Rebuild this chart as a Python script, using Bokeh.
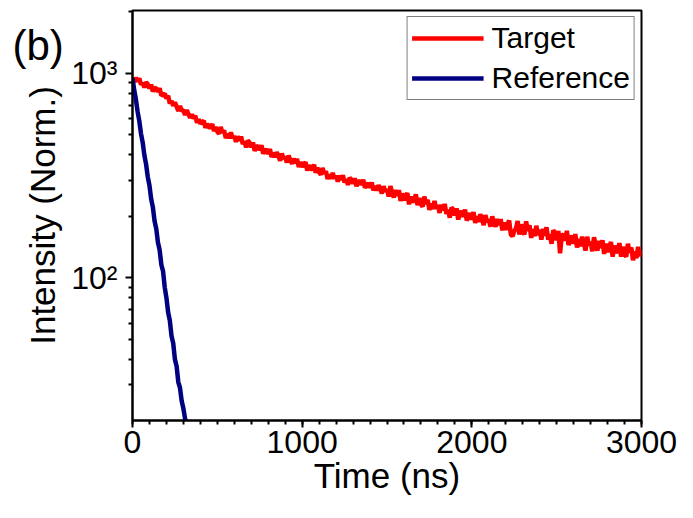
from bokeh.plotting import figure
from bokeh.models import Range1d, FixedTicker, Legend, LegendItem, Title
from bokeh.embed import file_html
from bokeh.resources import INLINE

# ---- data ----
target_t = list(range(0, 3001, 10))
target_i = [
    956, 907, 952, 914, 945, 882, 901, 852, 905, 885,
    845, 881, 816, 845, 848, 812, 846, 779, 787, 796,
    753, 778, 713, 733, 695, 721, 690, 656, 692, 658,
    660, 626, 662, 631, 606, 631, 602, 621, 574, 597,
    568, 578, 587, 542, 567, 544, 546, 565, 523, 546,
    519, 507, 547, 513, 526, 483, 507, 483, 514, 483,
    493, 463, 492, 469, 491, 452, 464, 435, 470, 459,
    435, 460, 418, 438, 442, 421, 445, 406, 416, 427,
    404, 427, 390, 409, 389, 412, 395, 374, 406, 385,
    389, 367, 397, 377, 362, 383, 364, 382, 349, 369,
    349, 360, 368, 335, 356, 339, 343, 358, 327, 346,
    329, 320, 345, 323, 332, 305, 320, 306, 326, 306,
    315, 296, 316, 302, 318, 293, 303, 285, 309, 303,
    289, 307, 281, 295, 298, 285, 302, 276, 284, 291,
    276, 293, 268, 281, 268, 284, 273, 259, 281, 265,
    271, 250, 281, 262, 247, 269, 252, 269, 238, 259,
    240, 251, 260, 229, 250, 235, 240, 256, 227, 246,
    230, 223, 250, 230, 241, 215, 231, 217, 238, 218,
    227, 208, 228, 214, 230, 206, 215, 197, 221, 216,
    202, 219, 193, 208, 211, 199, 216, 191, 199, 207,
    193, 210, 186, 200, 188, 205, 194, 181, 203, 188,
    193, 178, 200, 187, 178, 194, 181, 194, 171, 187,
    172, 183, 191, 163, 160, 170, 174, 190, 163, 183,
    169, 163, 189, 170, 181, 157, 173, 160, 180, 162,
    172, 154, 174, 161, 177, 154, 163, 147, 171, 166,
    153, 170, 132, 161, 164, 152, 170, 145, 153, 161,
    147, 164, 141, 155, 143, 159, 149, 136, 159, 144,
    150, 135, 158, 145, 136, 152, 140, 153, 131, 147,
    134, 142, 150, 127, 144, 133, 136, 148, 127, 142,
    131, 127, 147, 133, 141, 122, 135, 125, 142, 128,
    136,
]
ref_t = list(range(0, 331, 10))
ref_i = [
    950, 830, 748, 650, 586, 508, 460, 398, 360, 312,
    283, 243, 222, 190, 174, 149, 137, 116, 108, 90,
    80, 68, 62, 52, 48, 40, 37, 31, 29, 25,
    23, 20.5, 19.5, 17,
]
x_ticks = [0, 1000, 2000, 3000]
y_ticks = [100, 1000]
y_tick_labels = {100: "10\u00b2", 1000: "10\u00b3"}
series_names = ["Target", "Reference"]
panel_tag = "(b)"

FONT = "Liberation Sans"

p = figure(width=677, height=502, y_axis_type="log",
           x_range=Range1d(0, 3000), y_range=Range1d(20.1, 2030),
           output_backend="svg", toolbar_location=None,
           min_border_left=132, min_border_right=36,
           min_border_top=10, min_border_bottom=82)
p.background_fill_color = "white"
p.border_fill_color = "white"
p.outline_line_color = "black"
p.outline_line_width = 2
p.grid.visible = False

r1 = p.line(target_t, target_i, line_color="#ff0000", line_width=4.5)
r2 = p.line(ref_t, ref_i, line_color="#000080", line_width=4.5)

# axes
xa = p.xaxis[0]
xa.ticker = FixedTicker(ticks=x_ticks, minor_ticks=list(range(0, 3001, 100)))
xa.axis_label = "Time (ns)"
ya = p.yaxis[0]
ya.ticker = FixedTicker(ticks=y_ticks,
                        minor_ticks=[20, 30, 40, 50, 60, 70, 80, 90,
                                     200, 300, 400, 500, 600, 700, 800, 900, 2000])
ya.major_label_overrides = y_tick_labels
ya.axis_label = "Intensity (Norm.)"

for ax in (xa, ya):
    ax.axis_line_color = "black"
    ax.axis_line_width = 2
    ax.major_tick_line_color = "black"
    ax.major_tick_line_width = 2
    ax.minor_tick_line_color = "black"
    ax.minor_tick_line_width = 2
    ax.major_tick_in = 0
    ax.major_tick_out = 7
    ax.minor_tick_in = 0
    ax.minor_tick_out = 4
    ax.major_label_text_font = FONT
    ax.major_label_text_font_size = "32px"
    ax.major_label_text_color = "black"
    ax.axis_label_text_font = FONT
    ax.axis_label_text_font_size = "35px"
    ax.axis_label_text_font_style = "normal"
    ax.axis_label_text_color = "black"
xa.major_label_standoff = 3
xa.axis_label_standoff = 0
ya.major_label_standoff = 8
ya.axis_label_standoff = 6

legend = Legend(items=[LegendItem(label=series_names[0], renderers=[r1]),
                       LegendItem(label=series_names[1], renderers=[r2])],
                location="top_right")
legend.label_text_font = FONT
legend.label_text_font_size = "30px"
legend.label_text_color = "black"
legend.border_line_color = "black"
legend.border_line_width = 1
legend.background_fill_color = "white"
legend.background_fill_alpha = 1
legend.glyph_width = 72
legend.glyph_height = 34
legend.label_height = 34
legend.label_standoff = 8
legend.spacing = 6
legend.padding = 4
legend.margin = 6
p.add_layout(legend)

# panel tag "(b)" placed in the top side panel (not clipped to the frame)
tag = Title(text=panel_tag, align="left", vertical_align="bottom",
            offset=-120, standoff=-116,
            text_font=FONT, text_font_size="42px",
            text_font_style="normal", text_color="black")
p.add_layout(tag, "above")

open("out.html", "w").write(file_html(p, INLINE))
